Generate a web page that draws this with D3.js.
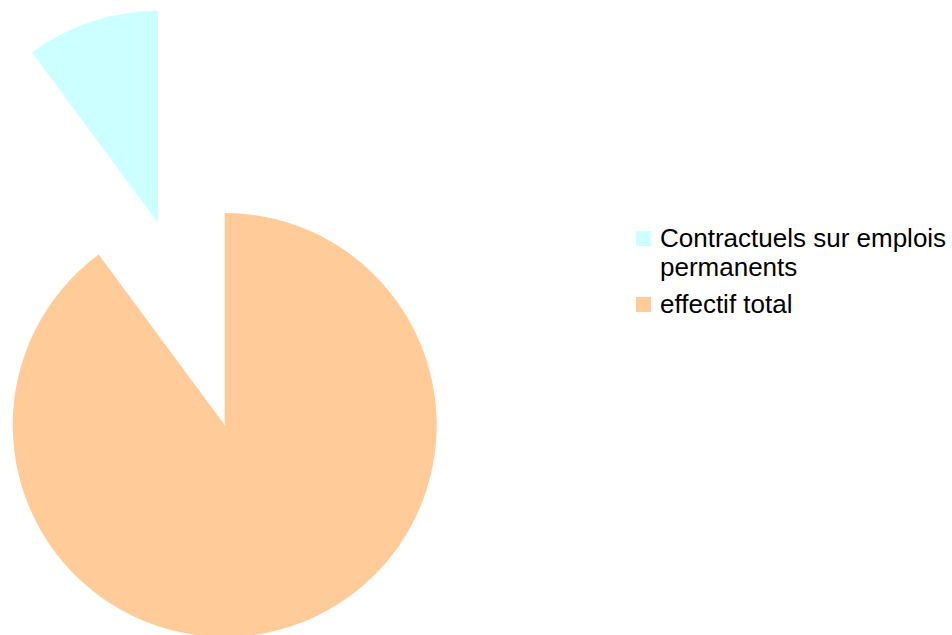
<!DOCTYPE html>
<html>
<head>
<meta charset="utf-8">
<script src="https://cdn.jsdelivr.net/npm/d3@7"></script>
<style>
  body { margin: 0; background: #fff; }
  text { font-family: "Liberation Sans", Arial, sans-serif; }
</style>
</head>
<body>
<svg id="pie" width="952" height="635"></svg>
<script>
// Data
const categories = ["effectif total", "Contractuels sur emplois permanents"];
const values = [319, 36];
const colors = ["#ffcc99", "#ccffff"];
const legendOrder = [1, 0];
const legendLines = [["effectif total"], ["Contractuels sur emplois", "permanents"]];

const svg = d3.select("#pie");
const cx = 224.7, cy = 425, radius = 212;
const explode = 213; // exploded slice offset

const pie = d3.pie().sort(null).value((d) => d);
const arcs = pie(values);
const arc = d3.arc().innerRadius(0).outerRadius(radius);

const g = svg.append("g").attr("transform", `translate(${cx},${cy})`);

g.selectAll("path")
  .data(arcs)
  .enter()
  .append("path")
  .attr("d", arc)
  .attr("fill", (d, i) => colors[i])
  .attr("transform", (d, i) => {
    if (i !== 1) return null;
    const mid = (d.startAngle + d.endAngle) / 2;
    return `translate(${Math.sin(mid) * explode},${-Math.cos(mid) * explode})`;
  });

// Legend
const legend = svg.append("g").attr("transform", "translate(636,231)");
const rowY = [0, 66];
legendOrder.forEach((idx, k) => {
  const row = legend.append("g").attr("transform", `translate(0,${rowY[k]})`);
  row.append("rect")
    .attr("width", 15)
    .attr("height", 15)
    .attr("fill", colors[idx]);
  legendLines[idx].forEach((line, j) => {
    row.append("text")
      .attr("x", 24)
      .attr("y", 16 + j * 29)
      .attr("font-size", "26px")
      .attr("fill", "#000")
      .text(line);
  });
});
</script>
</body>
</html>
